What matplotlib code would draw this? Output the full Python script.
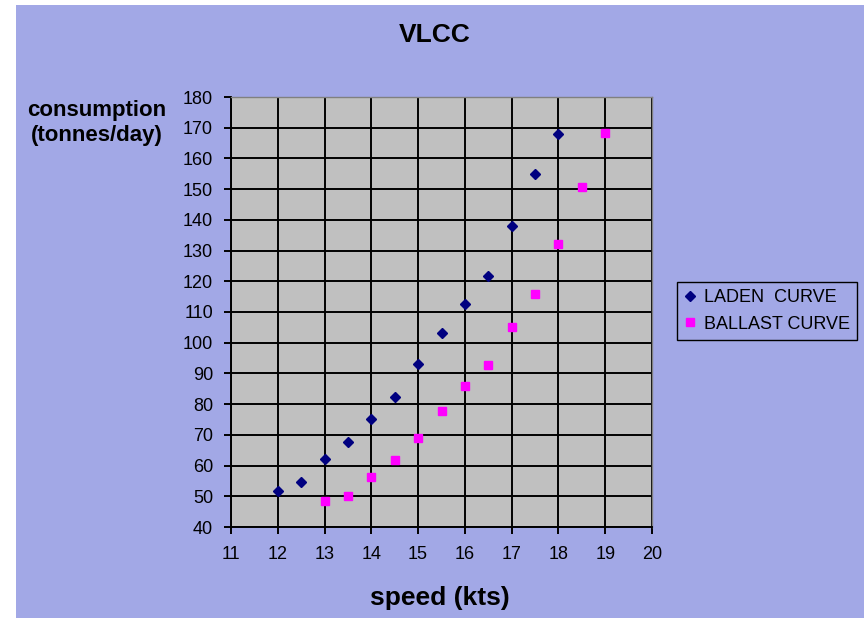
import matplotlib
matplotlib.use("Agg")
import matplotlib.pyplot as plt
from matplotlib.patches import Rectangle

plt.rcParams['font.family'] = ['Liberation Sans', 'DejaVu Sans']

laden_speed = [12, 12.5, 13, 13.5, 14, 14.5, 15, 15.5, 16, 16.5, 17, 17.5, 18]
laden_cons = [51.6, 54.5, 62.2, 67.7, 75.2, 82.3, 93.1, 103.1, 112.7, 121.7, 138.0, 155.0, 167.9]
ballast_speed = [13, 13.5, 14, 14.5, 15, 15.5, 16, 16.5, 17, 17.5, 18, 18.5, 19]
ballast_cons = [48.4, 50.0, 56.4, 61.7, 69.1, 77.7, 86.0, 92.6, 105.0, 116.0, 132.1, 150.7, 168.3]
x_ticks = list(range(11, 21))
y_ticks = list(range(40, 181, 10))

bg = '#A2A8E6'
W, H = 864, 618
fig = plt.figure(figsize=(W / 100, H / 100), dpi=100, facecolor='white')
fig.patches.append(Rectangle((16 / W, 0), 1 - 16 / W, 1 - 5 / H, transform=fig.transFigure,
                             facecolor=bg, edgecolor='none', zorder=-10))

ax = fig.add_axes([231 / W, 1 - 527 / H, (652 - 231) / W, (527 - 97) / H])
ax.set_facecolor('#C0C0C0')
ax.set_xlim(11, 20)
ax.set_ylim(40, 180)
ax.set_xticks(x_ticks)
ax.set_yticks(y_ticks)
ax.grid(True, color='black', linewidth=1.4)
ax.set_axisbelow(True)
for s in ['top', 'right']:
    ax.spines[s].set_color('#808080')
    ax.spines[s].set_linewidth(1.0)
for s in ['left', 'bottom']:
    ax.spines[s].set_color('black')
    ax.spines[s].set_linewidth(1.4)
ax.tick_params(direction='out', length=5, width=1.4, labelsize=13, colors='black')
ax.tick_params(axis='x', pad=9)
ax.tick_params(axis='y', pad=8)

ax.plot(laden_speed, laden_cons, linestyle='none', marker='D', markersize=5.5,
        color='#000080', label='LADEN  CURVE', zorder=3)
ax.plot(ballast_speed, ballast_cons, linestyle='none', marker='s', markersize=6,
        color='#FF00FF', label='BALLAST CURVE', zorder=3)

leg = fig.legend(loc='center left', bbox_to_anchor=(677 / W, 1 - 311 / H), frameon=True,
                 fontsize=13, handlelength=0.6, handletextpad=0.5, borderpad=0.4,
                 labelspacing=0.5, borderaxespad=0, fancybox=False, markerscale=0.85)
leg.get_frame().set_facecolor(bg)
leg.get_frame().set_edgecolor('black')
leg.get_frame().set_linewidth(1.0)
leg.get_frame().set_alpha(1)

fig.text(435 / W, 1 - 35 / H, 'VLCC', ha='center', va='center', fontsize=19, fontweight='bold')
fig.text(97 / W, 1 - 123 / H, 'consumption\n(tonnes/day)', ha='center', va='center',
         fontsize=16, fontweight='bold', linespacing=1.2)
fig.text(440 / W, 1 - 598 / H, 'speed (kts)', ha='center', va='center', fontsize=19,
         fontweight='bold')

fig.savefig('out.png', dpi=100, facecolor=fig.get_facecolor())
